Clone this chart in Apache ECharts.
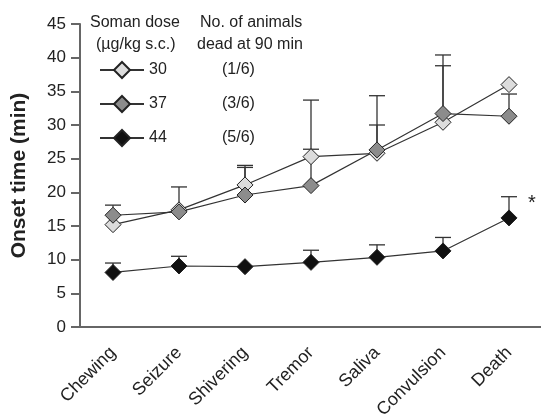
<!DOCTYPE html>
<html>
<head>
<meta charset="utf-8">
<script src="https://cdn.jsdelivr.net/npm/echarts@6/dist/echarts.min.js"></script>
<style>html,body{margin:0;padding:0;background:#fff}#c{width:541px;height:419px}</style>
</head>
<body>
<div id="c"></div>
<script>
var categories = ['Chewing','Seizure','Shivering','Tremor','Saliva','Convulsion','Death'];
var doses = ['30','37','44'];
var deadCounts = ['(1/6)','(3/6)','(5/6)'];
var dose30 = [15.2, 17.4, 21.1, 25.3, 25.8, 30.4, 36.0];
var dose30Upper = [null, null, 23.7, 26.4, 30.0, 38.8, null];
var dose37 = [16.6, 17.1, 19.6, 21.0, 26.3, 31.7, 31.3];
var dose37Upper = [18.1, 20.8, 24.0, 33.7, 34.35, 40.4, 34.6];
var dose44 = [8.1, 9.06, 8.96, 9.6, 10.35, 11.3, 16.2];
var dose44Upper = [9.5, 10.5, null, 11.4, 12.2, 13.3, 19.35];
var yTicks = {min: 0, max: 45, interval: 5};

var font = 'Liberation Sans, Arial, sans-serif';
var colors = ['#dcdcdc', '#8c8c8c', '#111111'];

function errData(vals, ups) {
  var d = [];
  for (var i = 0; i < vals.length; i++) {
    if (ups[i] != null) d.push([i, vals[i], ups[i]]);
  }
  return d;
}
function errSeries(vals, ups) {
  return {
    type: 'custom',
    z: 1,
    silent: true,
    data: errData(vals, ups),
    renderItem: function (params, api) {
      var p0 = api.coord([api.value(0), api.value(1)]);
      var p1 = api.coord([api.value(0), api.value(2)]);
      var hw = 8;
      var st = {stroke: '#333', lineWidth: 1.3};
      return {
        type: 'group',
        children: [
          {type: 'line', shape: {x1: p0[0], y1: p0[1], x2: p1[0], y2: p1[1]}, style: st},
          {type: 'line', shape: {x1: p1[0] - hw, y1: p1[1], x2: p1[0] + hw, y2: p1[1]}, style: st}
        ]
      };
    }
  };
}
function lineSeries(name, vals, color) {
  return {
    name: name,
    type: 'line',
    z: 3,
    data: vals,
    symbol: 'diamond',
    symbolSize: 16,
    lineStyle: {color: '#333', width: 1.2},
    itemStyle: {color: color, borderColor: '#222', borderWidth: 1},
    emphasis: {disabled: true}
  };
}

var chart = echarts.init(document.getElementById('c'));
chart.setOption({
  animation: false,
  backgroundColor: '#fff',
  grid: {left: 80, right: -1, top: 24, bottom: 92, containLabel: false, outerBoundsMode: 'none'},
  legend: {
    data: doses,
    orient: 'vertical',
    left: 94,
    top: 56,
    itemWidth: 44,
    itemHeight: 20,
    itemGap: 16,
    selectedMode: false,
    textStyle: {
      fontFamily: font, fontSize: 16, color: '#222',
      rich: {
        n: {fontFamily: font, fontSize: 16, color: '#222', width: 73},
        d: {fontFamily: font, fontSize: 16, color: '#222'}
      }
    },
    formatter: function (name) {
      var i = doses.indexOf(name);
      return '{n|' + name + '}{d|' + deadCounts[i] + '}';
    }
  },
  xAxis: {
    type: 'category',
    data: categories,
    boundaryGap: true,
    axisLine: {lineStyle: {color: '#666', width: 2}},
    axisTick: {alignWithLabel: true, length: 8, lineStyle: {color: '#666', width: 2}},
    axisLabel: {rotate: 45, margin: 23, fontFamily: font, fontSize: 18, color: '#222', interval: 0}
  },
  yAxis: {
    type: 'value',
    min: yTicks.min, max: yTicks.max, interval: yTicks.interval,
    name: 'Onset time (min)',
    nameLocation: 'middle',
    nameGap: 50,
    nameTextStyle: {fontFamily: font, fontSize: 21, fontWeight: 'bold', color: '#222'},
    axisLine: {show: true, lineStyle: {color: '#666', width: 2}},
    axisTick: {show: true, length: 9, lineStyle: {color: '#666', width: 2}},
    axisLabel: {margin: 14, fontFamily: font, fontSize: 17, color: '#222'},
    splitLine: {show: false}
  },
  graphic: [
    {type: 'text', left: 90, top: 15, style: {text: 'Soman dose', font: '16px ' + font, fill: '#222'}},
    {type: 'text', left: 96, top: 37, style: {text: '(\u00b5g/kg s.c.)', font: '16px ' + font, fill: '#222'}},
    {type: 'text', left: 200, top: 15, style: {text: 'No. of animals', font: '16px ' + font, fill: '#222'}},
    {type: 'text', left: 197, top: 37, style: {text: 'dead at 90 min', font: '16px ' + font, fill: '#222'}},
    {type: 'text', left: 528, top: 193, style: {text: '*', font: '20px ' + font, fill: '#222'}}
  ],
  series: [
    errSeries(dose30, dose30Upper),
    errSeries(dose37, dose37Upper),
    errSeries(dose44, dose44Upper),
    lineSeries('30', dose30, colors[0]),
    lineSeries('37', dose37, colors[1]),
    lineSeries('44', dose44, colors[2])
  ]
});
</script>
</body>
</html>
